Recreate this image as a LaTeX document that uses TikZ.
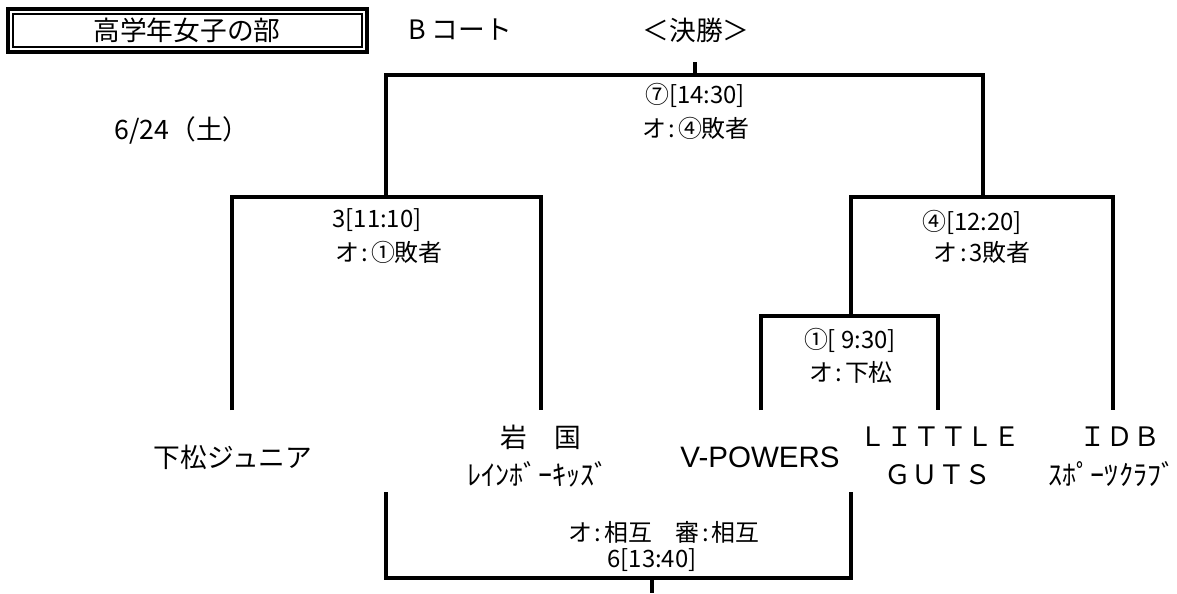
\documentclass[tikz,border=0pt]{standalone}
\usepackage{fontspec}
\setmainfont{Noto Sans CJK JP}
\newfontfamily\latinfont{Liberation Sans}
\newcommand\Cn{\makebox[0.5em]{:}}

\begin{document}
\begin{tikzpicture}[x=0.025cm,y=-0.025cm]
  \tikzstyle{Line}=[line width=2.5pt]
  \tikzstyle{Lbl}=[font=\fontsize{17}{20}\selectfont,inner sep=0pt]
  \tikzstyle{Team}=[font=\fontsize{19}{22}\selectfont,inner sep=0pt]
  \tikzstyle{Kana}=[font=\fontsize{20}{22}\selectfont,inner sep=0pt]
  \useasboundingbox (0,0) rectangle (1177,593);

  % header
  \draw[line width=2.8pt] (8,9) rectangle (367,52);
  \draw[line width=1.4pt] (13,14) rectangle (362,47);
  \node [Team] (title) at (187,30) {高学年女子の部};
  \node [Team] (court) at (460,30) {B コート};
  \node [Team] (final) at (696,30) {＜決勝＞};
  \node [Team] (date) at (182,130) {6/24（土）};

  % bracket points
  \coordinate (win) at (695,62);
  \coordinate (g7) at (695,75);
  \coordinate (g3) at (386,197);
  \coordinate (g4) at (983,197);
  \coordinate (g1) at (851,316);
  \coordinate (t1) at (232,410);
  \coordinate (t2) at (541,410);
  \coordinate (t3) at (761,410);
  \coordinate (t4) at (938,410);
  \coordinate (t5) at (1113,410);
  \coordinate (b1) at (386,492);
  \coordinate (b2) at (851,492);
  \coordinate (g6) at (652,578);
  \coordinate (loser) at (652,593);

  \draw[Line] (win) -- (g7);
  \draw[Line] (g3) |- (g7) -| (g4);
  \draw[Line] (t1) |- (g3) -| (t2);
  \draw[Line] (g1) |- (g4) -| (t5);
  \draw[Line] (t3) |- (g1) -| (t4);
  \draw[Line] (b1) |- (g6) -| (b2);
  \draw[Line] (g6) -- (loser);

  % match labels
  \node [Lbl] (m7a) at (695,95) {⑦[14:30]};
  \node [Lbl] (m7b) at (696,128) {オ\Cn{}④敗者};
  \node [Lbl] (m3a) at (377,220) {3[11:10]};
  \node [Lbl] (m3b) at (389,252) {オ\Cn{}①敗者};
  \node [Lbl] (m4a) at (972,222) {④[12:20]};
  \node [Lbl] (m4b) at (982,252) {オ\Cn{}3敗者};
  \node [Lbl] (m1a) at (850,340) {①[ 9:30]};
  \node [Lbl] (m1b) at (851,372) {オ\Cn{}下松};
  \node [Lbl] (m6a) at (664,532) {オ\Cn{}相互　審\Cn{}相互};
  \node [Lbl] (m6b) at (652,560) {6[13:40]};

  % teams
  \node [Team] (kudamatsu) at (233,457) {下松ジュニア};
  \node [Team] (iwakuni) at (541,437) {岩　国};
  \node [Kana] (rainbow) at (538,474) {ﾚｲﾝﾎﾞｰｷｯｽﾞ};
  \node [Team,font=\latinfont\fontsize{21}{24}\selectfont] (vpowers) at (760,457) {V-POWERS};
  \node [Team] (little) at (940,437) {ＬＩＴＴＬＥ};
  \node [Team] (guts) at (938,475) {ＧＵＴＳ};
  \node [Team] (idb) at (1120,437) {ＩＤＢ};
  \node [Kana] (sports) at (1112,474) {ｽﾎﾟｰﾂｸﾗﾌﾞ};
\end{tikzpicture}
\end{document}
